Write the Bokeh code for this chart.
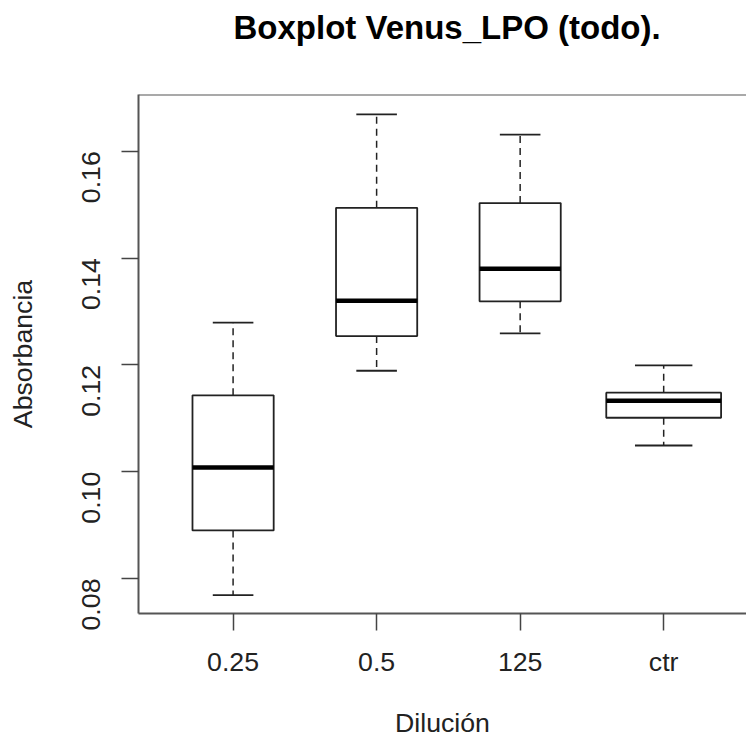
import math
from bokeh.plotting import figure
from bokeh.models import Range1d, FixedTicker, Span, Title, ColumnDataSource
from bokeh.embed import file_html
from bokeh.resources import INLINE

# ---- data ----
categories = ["0.25", "0.5", "125", "ctr"]
lower_whisker = [0.0769, 0.1189, 0.1259, 0.1049]
q1 = [0.0890, 0.1254, 0.1319, 0.1101]
median = [0.1008, 0.1320, 0.1380, 0.1133]
q3 = [0.1143, 0.1494, 0.1503, 0.1148]
upper_whisker = [0.1279, 0.1669, 0.1631, 0.1199]
n_obs = [6, 6, 6, 12]          # estimated group sizes (varwidth boxes)
y_ticks = [0.08, 0.10, 0.12, 0.14, 0.16]
y_tick_labels = ["0.08", "0.10", "0.12", "0.14", "0.16"]
title_text = "Boxplot Venus_LPO (todo)."
x_title = "Dilución"
y_title = "Absorbancia"

FONT = "Liberation Sans"
TICK_PX = "26.7px"

# ---- derived geometry ----
xs = [i + 1 for i in range(len(categories))]
max_n = max(n_obs)
box_w = [0.8 * math.sqrt(n / max_n) for n in n_obs]
src = ColumnDataSource(dict(
    x=xs,
    left=[x - w / 2 for x, w in zip(xs, box_w)],
    right=[x + w / 2 for x, w in zip(xs, box_w)],
    sl=[x - w / 4 for x, w in zip(xs, box_w)],
    sr=[x + w / 4 for x, w in zip(xs, box_w)],
    lo=lower_whisker, q1=q1, med=median, q3=q3, hi=upper_whisker,
))

W, H = 746, 740
FRAME_TOP, FRAME_BOTTOM = 94, 613
x_start, x_end = 0.341, 4.577
y_start, y_end = 0.07345, 0.17062

p = figure(width=W, height=H, output_backend="svg", toolbar_location=None,
           x_range=Range1d(x_start, x_end), y_range=Range1d(y_start, y_end),
           min_border_left=138, min_border_right=0, min_border_top=FRAME_TOP,
           min_border_bottom=H - FRAME_BOTTOM)
p.outline_line_color = None
p.grid.visible = False
p.background_fill_color = "white"
p.border_fill_color = "white"

# whiskers (dashed)
p.segment(x0="x", y0="q3", x1="x", y1="hi", source=src, line_color="#222222",
          line_width=1.5, line_dash="7 5")
p.segment(x0="x", y0="q1", x1="x", y1="lo", source=src, line_color="#222222",
          line_width=1.5, line_dash="7 5")
# staples
p.segment(x0="sl", y0="hi", x1="sr", y1="hi", source=src, line_color="#222222", line_width=1.8)
p.segment(x0="sl", y0="lo", x1="sr", y1="lo", source=src, line_color="#222222", line_width=1.8)
# boxes
p.quad(left="left", right="right", bottom="q1", top="q3", source=src,
       fill_color="white", line_color="#222222", line_width=1.8)
# medians
p.segment(x0="left", y0="med", x1="right", y1="med", source=src,
          line_color="black", line_width=4.5)

# top frame line
p.add_layout(Span(location=y_end, dimension="width", line_color="#555555", line_width=2))

# axes
xa = p.xaxis[0]
xa.ticker = FixedTicker(ticks=xs)
xa.major_label_overrides = {x: c for x, c in zip(xs, categories)}
xa.axis_label = x_title
ya = p.yaxis[0]
ya.ticker = FixedTicker(ticks=y_ticks)
ya.major_label_overrides = {t: l for t, l in zip(y_ticks, y_tick_labels)}
ya.axis_label = y_title
ya.major_label_orientation = math.pi / 2

for ax in (xa, ya):
    ax.axis_line_color = "#555555"
    ax.axis_line_width = 2
    ax.major_tick_line_color = "#444444"
    ax.major_tick_line_width = 1.5
    ax.major_tick_out = 17
    ax.major_tick_in = 0
    ax.minor_tick_line_color = None
    ax.major_label_text_font = FONT
    ax.major_label_text_font_size = TICK_PX
    ax.major_label_text_color = "#222222"
    ax.axis_label_text_font = FONT
    ax.axis_label_text_font_size = TICK_PX
    ax.axis_label_text_font_style = "normal"
    ax.axis_label_text_color = "#222222"

xa.major_label_standoff = 16
xa.axis_label_standoff = 28
ya.major_label_standoff = 30
ya.axis_label_standoff = 33

# spacer panel between frame and title (added first -> nearest the frame)
p.add_layout(Title(text=" ", text_font_size="1px", standoff=46), "above")
# main title
p.add_layout(Title(text=title_text, align="left", offset=95, standoff=0,
                   vertical_align="bottom", text_font=FONT, text_font_size="33px",
                   text_font_style="bold", text_color="black"), "above")

open("out.html", "w").write(file_html(p, INLINE))
